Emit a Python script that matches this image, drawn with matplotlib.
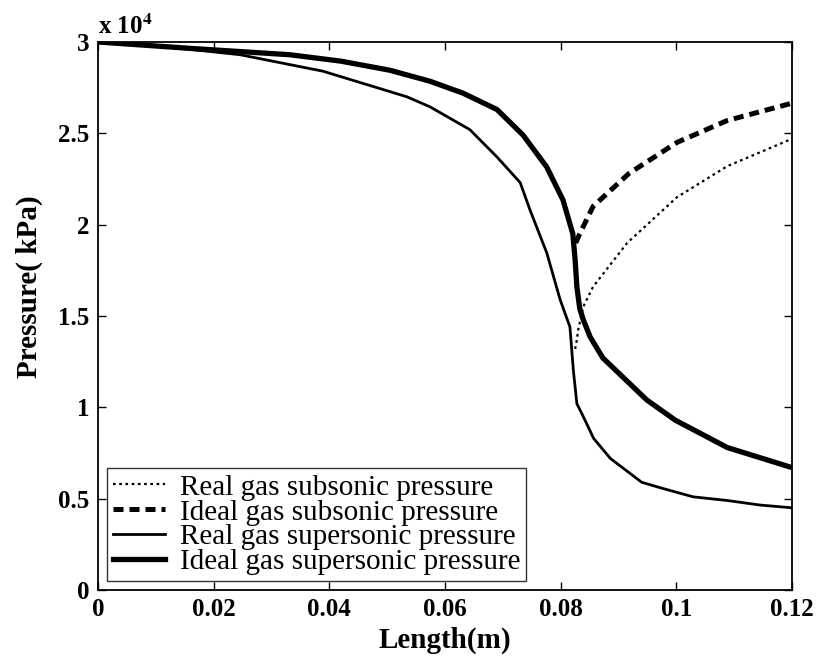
import matplotlib
matplotlib.use("Agg")
import matplotlib.pyplot as plt
from matplotlib.ticker import FuncFormatter

plt.rcParams["font.family"] = ["Liberation Serif", "DejaVu Serif"]
plt.rcParams["mathtext.fontset"] = "stix"

# real gas, supersonic branch (thin solid)
x_real_sup = [0, 0.01, 0.0246, 0.0389, 0.0534, 0.0574, 0.0643, 0.069, 0.073, 0.0747,
              0.0776, 0.0799, 0.0816, 0.0822, 0.0828, 0.0839, 0.0857, 0.0886, 0.094,
              0.0972, 0.1029, 0.1088, 0.1145, 0.12]
p_real_sup = [30000, 29800, 29300, 28400, 27000, 26450, 25200, 23700, 22300, 20800,
              18450, 15900, 14400, 12000, 10200, 9500, 8300, 7200, 5900,
              5600, 5100, 4900, 4650, 4500]

# ideal gas, supersonic branch (thick solid)
x_ideal_sup = [0, 0.0159, 0.0332, 0.042, 0.0505, 0.0574, 0.0631, 0.069, 0.0735, 0.0776,
               0.0804, 0.0821, 0.0825, 0.0828, 0.0833, 0.0839, 0.0851, 0.0873, 0.0949,
               0.0998, 0.1088, 0.12]
p_ideal_sup = [30000, 29650, 29300, 28950, 28450, 27850, 27200, 26300, 24900, 23150,
               21350, 19500, 18050, 16600, 15400, 14800, 13850, 12700, 10400,
               9300, 7800, 6700]

# ideal gas, subsonic branch (dashed)
x_ideal_sub = [0.0826, 0.0833, 0.0856, 0.0863, 0.0918, 0.1001, 0.1088, 0.12]
p_ideal_sub = [19000, 19500, 21000, 21200, 22800, 24500, 25700, 26650]

# real gas, subsonic branch (dotted)
x_real_sub = [0.0825, 0.0828, 0.083, 0.0839, 0.0856, 0.0915, 0.1001, 0.1088, 0.12]
p_real_sub = [13200, 13700, 14200, 15500, 16600, 19000, 21500, 23200, 24700]

x_ticks = [0, 0.02, 0.04, 0.06, 0.08, 0.1, 0.12]
y_ticks = [0, 5000, 10000, 15000, 20000, 25000, 30000]

fig = plt.figure(figsize=(8.17, 6.61), dpi=100)
ax = fig.add_axes([0.12, 0.1074, 0.8494, 0.8291])

ax.plot(x_real_sub, p_real_sub, color="black", lw=1.6, linestyle=(0, (1.2, 1.6)),
        label="Real gas subsonic pressure")
ax.plot(x_ideal_sub, p_ideal_sub, color="black", lw=3.6, linestyle=(0, (2.0, 1.2)),
        label="Ideal gas subsonic pressure")
ax.plot(x_real_sup, p_real_sup, color="black", lw=2.0,
        label="Real gas supersonic pressure")
ax.plot(x_ideal_sup, p_ideal_sup, color="black", lw=3.8,
        label="Ideal gas supersonic pressure")

ax.set_xlim(0, 0.12)
ax.set_ylim(0, 30000)
ax.set_xticks(x_ticks)
ax.set_yticks(y_ticks)
ax.xaxis.set_major_formatter(FuncFormatter(lambda v, p: f"{v:g}"))
ax.yaxis.set_major_formatter(FuncFormatter(lambda v, p: f"{v / 1e4:g}"))
ax.tick_params(direction="in", top=True, right=True, length=6, width=1,
               labelsize=18, pad=6)
for lab in ax.get_xticklabels() + ax.get_yticklabels():
    lab.set_fontweight("bold")
for spine in ax.spines.values():
    spine.set_linewidth(1.3)

ax.text(0.0, 1.005, r"x 10$^{\mathbf{4}}$", transform=ax.transAxes,
        fontsize=18, fontweight="bold", ha="left", va="bottom")

ax.set_xlabel("Length(m)", fontsize=21, fontweight="bold", labelpad=4)
ax.set_ylabel("Pressure( kPa)", fontsize=21, fontweight="bold")
ax.yaxis.set_label_coords(-0.08, 0.553)

leg = ax.legend(loc="lower left", fontsize=21, frameon=True, fancybox=False,
                edgecolor="black", handlelength=1.8, handletextpad=0.5,
                borderpad=0.2, labelspacing=-0.05, borderaxespad=0.3)
leg.get_frame().set_linewidth(1.0)

fig.savefig("out.png", dpi=100, facecolor="white")
